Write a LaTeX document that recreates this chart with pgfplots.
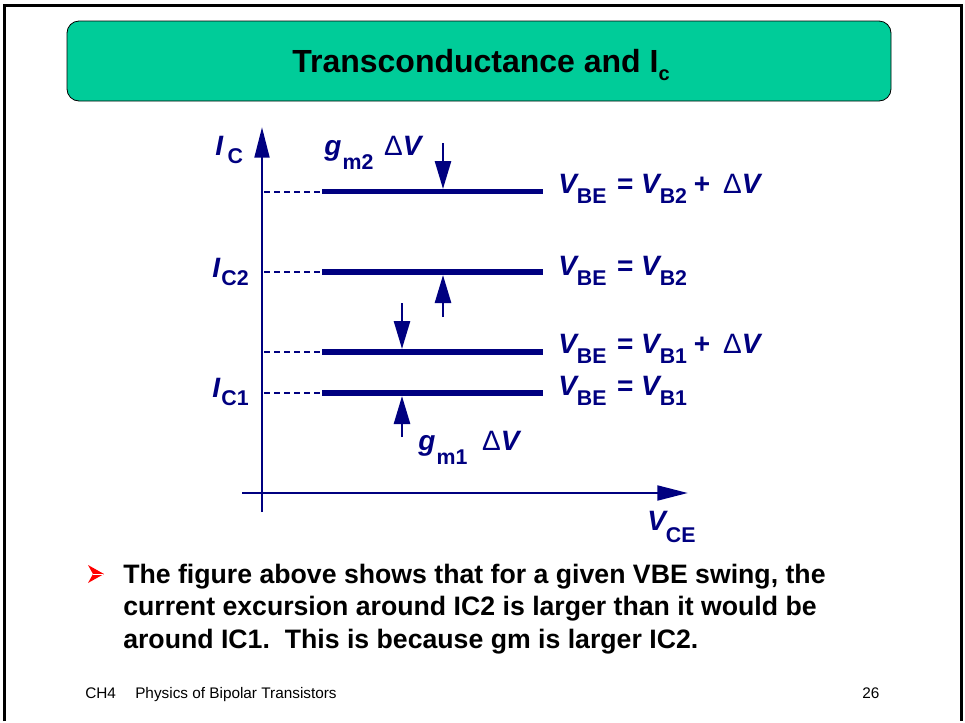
\documentclass[border=0pt]{standalone}
\usepackage{pgfplots}
\pgfplotsset{compat=1.18}
\usepackage{fontspec}
\setmainfont{Liberation Sans}
\usetikzlibrary{arrows.meta}
\definecolor{navy}{RGB}{0,0,128}
\definecolor{titlegreen}{RGB}{0,204,153}
\newcommand{\msz}{\fontsize{21pt}{24pt}\selectfont}
\newcommand{\sub}[2][8pt]{\raisebox{-#1}{\fontsize{16pt}{18pt}\selectfont\bfseries #2}}
\newcommand{\iv}[1]{{\bfseries\itshape #1}}
\newcommand{\dV}{{\normalfont\msz\char"0394}\iv{V}}
\begin{document}
\begin{tikzpicture}
\begin{axis}[
  scale only axis, width=723.75pt, height=540.75pt,
  xmin=0, xmax=965, ymin=0, ymax=721, y dir=reverse,
  axis lines=none, xtick=\empty, ytick=\empty, clip=false]
\path (rel axis cs:0,0) rectangle (rel axis cs:1,1);
% slide frame
\draw[black, line width=2.2pt] (axis cs:4.5,721) -- (axis cs:4.5,5.5) -- (axis cs:961.5,5.5) -- (axis cs:961.5,721);
% title box
\draw[black, line width=0.6pt, fill=titlegreen, rounded corners=9pt] (axis cs:67,21) rectangle (axis cs:891,101);
\node[anchor=base, inner sep=0pt] at (axis cs:481,72) {\fontsize{24pt}{28pt}\selectfont\bfseries Transconductance and I\raisebox{-6pt}{\fontsize{15pt}{17pt}\selectfont c}};
% level lines (data)
\addplot[navy, line width=4pt, no marks] coordinates {(322,191.5) (543,191.5)};
\addplot[navy, line width=4pt, no marks] coordinates {(322,272) (543,272)};
\addplot[navy, line width=4pt, no marks] coordinates {(322,352) (543,352)};
\addplot[navy, line width=4pt, no marks] coordinates {(322,393) (543,393)};
\addplot[navy, line width=1.5pt, no marks, dash pattern=on 4.5pt off 3pt] coordinates {(264,191.5) (322,191.5)};
\addplot[navy, line width=1.5pt, no marks, dash pattern=on 4.5pt off 3pt] coordinates {(264,272) (322,272)};
\addplot[navy, line width=1.5pt, no marks, dash pattern=on 4.5pt off 3pt] coordinates {(264,352) (322,352)};
\addplot[navy, line width=1.5pt, no marks, dash pattern=on 4.5pt off 3pt] coordinates {(264,393) (322,393)};
% axes
\draw[navy, line width=2.2pt, -{Triangle[length=23pt,width=11pt]}] (axis cs:262,512) -- (axis cs:262,127);
\draw[navy, line width=2.2pt, -{Triangle[length=23pt,width=11pt]}] (axis cs:242,493) -- (axis cs:688,493);
% small arrows
\draw[navy, line width=2pt, -{Triangle[length=21pt,width=12pt]}] (axis cs:443,143) -- (axis cs:443,189);
\draw[navy, line width=2pt, -{Triangle[length=21pt,width=12pt]}] (axis cs:443,317) -- (axis cs:443,275);
\draw[navy, line width=2pt, -{Triangle[length=21pt,width=12pt]}] (axis cs:402,303) -- (axis cs:402,349);
\draw[navy, line width=2pt, -{Triangle[length=21pt,width=12pt]}] (axis cs:402,437) -- (axis cs:402,396);
% labels
\begin{scope}[every node/.style={anchor=base west, inner sep=0pt, text=navy, font=\msz\bfseries}]
\node at (axis cs:558,193) {\iv{V}\sub[8pt]{BE}\hspace{2pt} = \iv{V}\sub[8pt]{B2}\hspace{5pt}+\hspace{4pt} \dV};
\node at (axis cs:558,275) {\iv{V}\sub[8pt]{BE}\hspace{2pt} = \iv{V}\sub[8pt]{B2}};
\node at (axis cs:558,353) {\iv{V}\sub[8pt]{BE}\hspace{2pt} = \iv{V}\sub[8pt]{B1}\hspace{5pt}+\hspace{4pt} \dV};
\node at (axis cs:558,395) {\iv{V}\sub[8pt]{BE}\hspace{2pt} = \iv{V}\sub[8pt]{B1}};
\node at (axis cs:215,155) {\iv{I}\,\sub[6pt]{C}};
\node at (axis cs:212,277) {\iv{I}\hspace{1pt}\sub[6pt]{C2}};
\node at (axis cs:212,397) {\iv{I}\hspace{1pt}\sub[6pt]{C1}};
\node at (axis cs:324,155) {\iv{g}\hspace{1pt}\sub[11pt]{m2}\hspace{8pt}\dV};
\node at (axis cs:418,450) {\iv{g}\hspace{1pt}\sub[11pt]{m1}\hspace{11pt}\dV};
\node at (axis cs:647,530) {\iv{V}\sub[9pt]{CE}};
\end{scope}
% bullet
\fill[red] (axis cs:88,565) -- (axis cs:104,574) -- (axis cs:88,583) -- (axis cs:93,574) -- cycle;
\draw[white, line width=0.5pt] (axis cs:93,574) -- (axis cs:103,574);
\begin{scope}[every node/.style={anchor=base west, inner sep=0pt, text=black, font=\fontsize{20pt}{24pt}\selectfont\bfseries}]
\node at (axis cs:123,583) {The figure above shows that for a given VBE swing, the};
\node at (axis cs:123,615.5) {current excursion around IC2 is larger than it would be};
\node at (axis cs:123,648) {around IC1.\ \ This is because gm is larger IC2.};
\end{scope}
% footer
\begin{scope}[every node/.style={anchor=base west, inner sep=0pt, text=black, font=\fontsize{11.5pt}{13pt}\selectfont}]
\node at (axis cs:85,698) {CH4};
\node at (axis cs:135,698) {Physics of Bipolar Transistors};
\node at (axis cs:862,698) {26};
\end{scope}
\end{axis}
\end{tikzpicture}
\end{document}
